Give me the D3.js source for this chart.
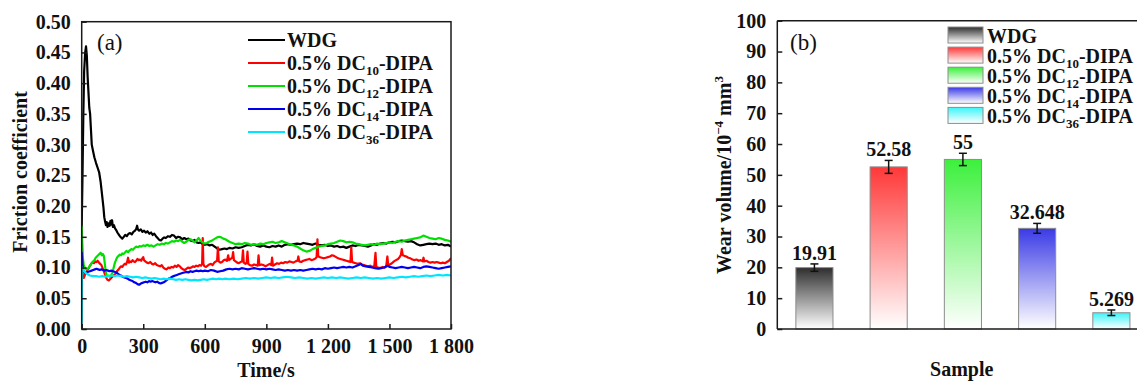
<!DOCTYPE html>
<html>
<head>
<meta charset="utf-8">
<script src="https://cdn.jsdelivr.net/npm/d3@7"></script>
<style>
  html, body { margin: 0; padding: 0; background: #fff; }
  svg { display: block; }
  text { font-family: "Liberation Serif", "Times New Roman", serif; fill: #111; }
</style>
</head>
<body>
<svg id="chart" width="1137" height="381"></svg>
<script>
// ---------- (a) friction coefficient vs time ----------
const seriesNames = ["WDG", "DC10", "DC12", "DC14", "DC36"];
const seriesColors = ["#000000", "#ff0000", "#00e000", "#0000ee", "#00e5ff"];
const legendSub = [null, "10", "12", "14", "36"];

const timeTicks = [0, 300, 600, 900, 1200, 1500, 1800];
const timeTickLabels = ["0", "300", "600", "900", "1 200", "1 500", "1 800"];
const cofTicks = [0, 0.05, 0.10, 0.15, 0.20, 0.25, 0.30, 0.35, 0.40, 0.45, 0.50];

const wdgSeries = [[0,0.165],[4,0.25],[8,0.35],[12,0.42],[17,0.45],[21,0.46],[25,0.445],[29,0.41],[33,0.385],[37,0.36],[41,0.35],[45,0.325],[49,0.30],[55,0.29],[62,0.279],[70,0.27],[78,0.262],[85,0.255],[92,0.24],[97,0.225],[102,0.21],[106,0.198],[110,0.182],[114,0.175],[118,0.169],[122,0.174],[126,0.166],[131,0.172],[136,0.168],[140,0.176],[144,0.17],[148,0.177],[152,0.166],[157,0.169],[162,0.164],[168,0.161],[174,0.157],[180,0.154],[186,0.151],[192,0.149],[198,0.147],[205,0.15],[212,0.153],[220,0.151],[228,0.155],[236,0.156],[244,0.154],[252,0.158],[260,0.16],[266,0.163],[270,0.168],[274,0.162],[280,0.16],[288,0.162],[296,0.158],[304,0.16],[312,0.157],[320,0.159],[330,0.155],[338,0.157],[346,0.153],[354,0.155],[362,0.151],[370,0.148],[378,0.145],[386,0.144],[394,0.147],[402,0.149],[410,0.148],[420,0.151],[430,0.15],[440,0.153],[450,0.152],[460,0.148],[470,0.15],[480,0.149],[490,0.146],[500,0.148],[510,0.146],[520,0.147],[530,0.144],[540,0.143],[550,0.145],[560,0.141],[570,0.14],[580,0.141],[590,0.138],[600,0.137],[612,0.138],[624,0.136],[636,0.137],[648,0.134],[660,0.131],[672,0.129],[684,0.13],[696,0.131],[708,0.13],[720,0.132],[735,0.131],[750,0.133],[765,0.132],[780,0.133],[795,0.135],[810,0.137],[825,0.136],[840,0.138],[855,0.135],[870,0.134],[885,0.136],[900,0.134],[915,0.133],[930,0.135],[945,0.134],[960,0.136],[975,0.134],[990,0.137],[1005,0.138],[1020,0.137],[1035,0.138],[1050,0.139],[1065,0.138],[1080,0.14],[1095,0.139],[1110,0.138],[1125,0.137],[1140,0.139],[1155,0.137],[1170,0.136],[1185,0.137],[1200,0.135],[1215,0.136],[1230,0.134],[1245,0.135],[1260,0.133],[1275,0.134],[1290,0.132],[1305,0.134],[1320,0.136],[1335,0.135],[1350,0.137],[1365,0.136],[1380,0.135],[1395,0.134],[1410,0.136],[1425,0.138],[1440,0.137],[1455,0.139],[1470,0.14],[1485,0.139],[1500,0.141],[1515,0.142],[1530,0.141],[1545,0.143],[1560,0.144],[1575,0.143],[1590,0.142],[1605,0.143],[1620,0.141],[1635,0.138],[1650,0.136],[1665,0.137],[1680,0.138],[1695,0.139],[1710,0.138],[1725,0.139],[1740,0.137],[1755,0.138],[1770,0.136],[1785,0.137],[1800,0.134]];

const dc10Series = [[0,0.1],[3,0.095],[6,0.087],[10,0.083],[14,0.086],[18,0.09],[24,0.094],[30,0.097],[36,0.1],[42,0.104],[48,0.107],[54,0.108],[60,0.107],[66,0.11],[72,0.109],[78,0.111],[84,0.108],[90,0.106],[96,0.104],[102,0.099],[108,0.094],[114,0.088],[120,0.083],[126,0.08],[132,0.079],[138,0.081],[144,0.083],[150,0.085],[156,0.087],[162,0.089],[168,0.091],[174,0.095],[180,0.097],[186,0.1],[192,0.102],[198,0.101],[204,0.104],[210,0.106],[216,0.105],[222,0.11],[226,0.116],[230,0.108],[236,0.11],[242,0.109],[248,0.112],[254,0.11],[260,0.109],[266,0.111],[272,0.114],[278,0.112],[284,0.113],[290,0.111],[296,0.115],[300,0.117],[304,0.112],[310,0.11],[318,0.108],[326,0.107],[334,0.109],[342,0.106],[350,0.105],[358,0.107],[366,0.104],[374,0.103],[382,0.102],[390,0.104],[398,0.1],[406,0.098],[414,0.097],[422,0.1],[430,0.099],[438,0.101],[446,0.1],[454,0.103],[462,0.101],[470,0.104],[478,0.102],[486,0.099],[494,0.097],[502,0.096],[510,0.098],[518,0.1],[526,0.099],[534,0.1],[542,0.102],[550,0.101],[558,0.103],[566,0.102],[574,0.104],[582,0.103],[587,0.106],[590,0.148],[593,0.106],[598,0.102],[606,0.101],[614,0.103],[622,0.105],[630,0.106],[638,0.104],[646,0.108],[654,0.11],[660,0.111],[664,0.133],[668,0.11],[676,0.108],[684,0.109],[692,0.112],[700,0.113],[708,0.111],[714,0.12],[718,0.112],[726,0.114],[734,0.116],[738,0.125],[742,0.112],[750,0.11],[758,0.108],[766,0.107],[774,0.109],[782,0.11],[786,0.128],[790,0.108],[798,0.106],[804,0.107],[808,0.126],[812,0.106],[820,0.104],[830,0.103],[840,0.105],[850,0.104],[858,0.103],[862,0.12],[866,0.104],[876,0.105],[886,0.104],[896,0.102],[906,0.104],[916,0.106],[924,0.104],[928,0.116],[932,0.103],[942,0.105],[952,0.107],[962,0.106],[972,0.108],[982,0.107],[992,0.109],[1002,0.108],[1012,0.11],[1022,0.109],[1032,0.108],[1042,0.11],[1052,0.111],[1056,0.118],[1060,0.11],[1070,0.109],[1080,0.111],[1090,0.112],[1100,0.113],[1110,0.114],[1120,0.112],[1130,0.113],[1140,0.115],[1145,0.117],[1149,0.146],[1153,0.118],[1160,0.117],[1170,0.116],[1180,0.115],[1190,0.116],[1200,0.117],[1210,0.118],[1220,0.12],[1230,0.119],[1240,0.117],[1250,0.115],[1260,0.114],[1270,0.113],[1280,0.112],[1290,0.111],[1300,0.11],[1310,0.109],[1314,0.133],[1318,0.109],[1326,0.108],[1336,0.107],[1346,0.106],[1356,0.107],[1366,0.105],[1376,0.104],[1386,0.103],[1396,0.102],[1406,0.103],[1416,0.101],[1426,0.102],[1432,0.124],[1436,0.101],[1444,0.1],[1452,0.099],[1460,0.1],[1468,0.101],[1476,0.1],[1484,0.102],[1490,0.118],[1494,0.103],[1502,0.105],[1512,0.107],[1522,0.11],[1532,0.112],[1542,0.114],[1550,0.117],[1556,0.121],[1560,0.13],[1565,0.12],[1572,0.119],[1582,0.118],[1592,0.116],[1602,0.115],[1612,0.113],[1622,0.112],[1632,0.113],[1642,0.111],[1652,0.112],[1662,0.11],[1666,0.116],[1670,0.11],[1680,0.111],[1690,0.109],[1700,0.108],[1710,0.109],[1720,0.108],[1730,0.109],[1740,0.108],[1750,0.107],[1760,0.108],[1770,0.107],[1780,0.109],[1790,0.111],[1800,0.115]];

const dc12Series = [[0,0.168],[3,0.14],[6,0.115],[10,0.104],[15,0.1],[20,0.098],[26,0.097],[32,0.099],[38,0.102],[44,0.104],[50,0.108],[56,0.11],[62,0.112],[68,0.116],[74,0.118],[80,0.12],[86,0.122],[92,0.124],[98,0.12],[103,0.122],[108,0.119],[112,0.108],[116,0.097],[120,0.088],[126,0.086],[132,0.087],[138,0.085],[144,0.088],[150,0.092],[156,0.1],[162,0.108],[168,0.113],[174,0.117],[180,0.119],[186,0.121],[192,0.12],[198,0.123],[204,0.122],[210,0.124],[218,0.127],[226,0.125],[234,0.128],[242,0.13],[250,0.129],[258,0.132],[266,0.134],[274,0.133],[282,0.135],[290,0.134],[300,0.136],[310,0.135],[320,0.137],[330,0.135],[340,0.136],[350,0.134],[360,0.136],[370,0.138],[380,0.137],[390,0.139],[400,0.138],[410,0.14],[420,0.139],[430,0.141],[440,0.143],[450,0.142],[460,0.144],[470,0.143],[480,0.145],[490,0.142],[500,0.14],[510,0.142],[520,0.145],[530,0.146],[540,0.144],[550,0.141],[560,0.144],[570,0.148],[580,0.143],[590,0.141],[600,0.139],[610,0.14],[620,0.142],[630,0.143],[640,0.145],[650,0.147],[660,0.149],[670,0.15],[680,0.149],[690,0.147],[700,0.146],[710,0.144],[720,0.142],[735,0.14],[750,0.138],[765,0.139],[780,0.138],[795,0.14],[810,0.139],[825,0.137],[840,0.138],[855,0.137],[870,0.139],[885,0.138],[900,0.14],[915,0.141],[930,0.142],[945,0.14],[960,0.141],[975,0.143],[990,0.141],[1005,0.139],[1020,0.137],[1035,0.136],[1050,0.134],[1065,0.131],[1080,0.128],[1095,0.126],[1110,0.127],[1125,0.13],[1140,0.132],[1155,0.134],[1170,0.135],[1185,0.136],[1200,0.138],[1215,0.139],[1230,0.14],[1245,0.142],[1260,0.144],[1275,0.143],[1290,0.141],[1305,0.142],[1320,0.141],[1335,0.139],[1350,0.138],[1365,0.137],[1380,0.136],[1395,0.137],[1410,0.138],[1425,0.137],[1440,0.139],[1455,0.138],[1470,0.139],[1485,0.14],[1500,0.141],[1515,0.14],[1530,0.142],[1545,0.143],[1560,0.142],[1575,0.144],[1590,0.145],[1605,0.146],[1620,0.147],[1635,0.148],[1650,0.149],[1665,0.152],[1680,0.15],[1695,0.148],[1710,0.147],[1725,0.146],[1740,0.148],[1755,0.147],[1770,0.145],[1785,0.144],[1800,0.142]];

const dc14Series = [[0,0.125],[3,0.11],[6,0.098],[10,0.093],[16,0.091],[24,0.092],[32,0.093],[40,0.094],[48,0.095],[56,0.096],[64,0.097],[72,0.098],[80,0.097],[88,0.096],[96,0.097],[104,0.096],[112,0.095],[120,0.096],[128,0.095],[136,0.094],[144,0.095],[152,0.094],[160,0.093],[168,0.092],[176,0.09],[184,0.088],[192,0.087],[200,0.085],[208,0.084],[216,0.083],[224,0.082],[232,0.08],[240,0.079],[248,0.078],[256,0.076],[264,0.075],[272,0.073],[280,0.072],[288,0.074],[296,0.075],[304,0.076],[312,0.077],[320,0.076],[328,0.078],[336,0.077],[344,0.078],[352,0.077],[360,0.076],[368,0.077],[376,0.075],[384,0.074],[392,0.075],[400,0.076],[408,0.078],[416,0.08],[424,0.082],[432,0.083],[440,0.085],[448,0.086],[456,0.087],[464,0.088],[472,0.089],[480,0.09],[490,0.091],[500,0.092],[510,0.093],[520,0.092],[530,0.094],[540,0.093],[550,0.094],[560,0.095],[570,0.094],[580,0.095],[590,0.094],[600,0.095],[615,0.094],[630,0.096],[645,0.095],[660,0.093],[675,0.094],[690,0.095],[705,0.097],[720,0.098],[735,0.097],[750,0.098],[765,0.097],[780,0.099],[795,0.098],[810,0.097],[825,0.098],[840,0.099],[855,0.098],[870,0.097],[885,0.098],[900,0.097],[915,0.098],[930,0.097],[945,0.096],[960,0.097],[975,0.096],[990,0.095],[1005,0.096],[1020,0.095],[1035,0.096],[1050,0.095],[1065,0.096],[1080,0.095],[1095,0.096],[1110,0.097],[1125,0.098],[1140,0.097],[1155,0.098],[1170,0.097],[1185,0.099],[1200,0.098],[1215,0.099],[1230,0.1],[1245,0.099],[1260,0.1],[1275,0.101],[1290,0.1],[1305,0.101],[1320,0.1],[1335,0.102],[1350,0.104],[1360,0.106],[1370,0.103],[1385,0.102],[1400,0.101],[1415,0.1],[1430,0.099],[1445,0.098],[1460,0.099],[1475,0.1],[1490,0.103],[1500,0.101],[1515,0.1],[1530,0.099],[1545,0.1],[1560,0.101],[1575,0.1],[1590,0.099],[1605,0.1],[1620,0.101],[1635,0.1],[1650,0.099],[1665,0.101],[1680,0.102],[1695,0.101],[1710,0.1],[1725,0.099],[1740,0.098],[1755,0.099],[1770,0.1],[1785,0.101],[1800,0.102]];

const dc36Series = [[0,0.0],[1,0.06],[2,0.1],[6,0.097],[12,0.094],[20,0.091],[30,0.089],[40,0.087],[55,0.086],[70,0.086],[85,0.085],[100,0.086],[115,0.085],[130,0.086],[145,0.087],[160,0.086],[175,0.087],[190,0.086],[205,0.085],[220,0.086],[235,0.085],[250,0.084],[265,0.085],[280,0.084],[295,0.083],[310,0.084],[325,0.083],[340,0.082],[355,0.083],[370,0.082],[385,0.081],[400,0.082],[415,0.081],[430,0.082],[445,0.081],[460,0.08],[475,0.081],[490,0.08],[505,0.081],[520,0.08],[535,0.079],[550,0.08],[565,0.079],[580,0.08],[595,0.081],[610,0.08],[625,0.081],[640,0.082],[655,0.081],[670,0.082],[685,0.081],[700,0.082],[720,0.081],[740,0.082],[760,0.081],[780,0.082],[800,0.083],[820,0.082],[840,0.083],[860,0.082],[880,0.083],[900,0.084],[920,0.083],[940,0.084],[960,0.083],[980,0.084],[1000,0.085],[1020,0.084],[1040,0.083],[1060,0.084],[1080,0.083],[1100,0.082],[1120,0.083],[1140,0.082],[1160,0.083],[1180,0.084],[1200,0.083],[1220,0.084],[1240,0.083],[1260,0.084],[1280,0.083],[1300,0.082],[1320,0.083],[1340,0.084],[1360,0.083],[1380,0.084],[1400,0.083],[1420,0.082],[1440,0.083],[1460,0.082],[1480,0.083],[1500,0.084],[1520,0.083],[1540,0.084],[1560,0.085],[1580,0.084],[1600,0.085],[1620,0.086],[1640,0.085],[1660,0.086],[1680,0.087],[1700,0.086],[1720,0.087],[1740,0.088],[1760,0.087],[1780,0.088],[1800,0.087]];

// ---------- (b) wear volume bars ----------
const wearSamples = ["WDG", "DC10", "DC12", "DC14", "DC36"];
const wearValues = [19.91, 52.58, 55, 32.648, 5.269];
const wearErrors = [1.2, 2.1, 2.0, 1.6, 0.9];
const wearTopColors = ["#2e2e2e", "#ff3838", "#3cf03c", "#3a3ae6", "#3cf4f8"];
const wearTicks = [0, 10, 20, 30, 40, 50, 60, 70, 80, 90, 100];

const svg = d3.select("#chart");
const FONT = '"Liberation Serif", "Times New Roman", serif';
const AXIS_COLOR = "#1a1a1a";
const FS = 20;

// legend label helper: "0.5% DC" + subscript + "-DIPA"
function legendLabel(sel, i) {
  if (legendSub[i] === null) { sel.text("WDG"); return; }
  sel.append("tspan").text("0.5% DC");
  sel.append("tspan").attr("font-size", 13).attr("dy", 5).text(legendSub[i]);
  sel.append("tspan").attr("dy", -5).text("-DIPA");
}

// ======================= panel (a) =======================
const ax = { left: 81.7, right: 451, top: 21.7, bottom: 329 };
const xA = d3.scaleLinear().domain([0, 1800]).range([ax.left, ax.right]);
const yA = d3.scaleLinear().domain([0, 0.5]).range([ax.bottom, ax.top]);

const gA = svg.append("g");
const allSeries = [wdgSeries, dc10Series, dc12Series, dc14Series, dc36Series];
const line = d3.line().x(d => xA(d[0])).y(d => yA(d[1]));

gA.append("clipPath").attr("id", "clipA").append("rect")
  .attr("x", ax.left).attr("y", ax.top)
  .attr("width", ax.right - ax.left).attr("height", ax.bottom - ax.top);

const linesG = gA.append("g").attr("clip-path", "url(#clipA)");
allSeries.forEach((s, i) => {
  linesG.append("path").datum(s)
    .attr("d", line)
    .attr("fill", "none")
    .attr("stroke", seriesColors[i])
    .attr("stroke-width", 2.2)
    .attr("stroke-linejoin", "round");
});

// frame
gA.append("rect")
  .attr("x", ax.left).attr("y", ax.top)
  .attr("width", ax.right - ax.left).attr("height", ax.bottom - ax.top)
  .attr("fill", "none").attr("stroke", AXIS_COLOR).attr("stroke-width", 1.5);

// axes (inward ticks)
const xAxisA = d3.axisBottom(xA).tickValues(timeTicks)
  .tickFormat((d, i) => timeTickLabels[i]).tickSizeInner(-5).tickSizeOuter(0).tickPadding(10);
const yAxisA = d3.axisLeft(yA).tickValues(cofTicks)
  .tickFormat(d3.format(".2f")).tickSizeInner(-5).tickSizeOuter(0).tickPadding(11);

function styleAxis(g) {
  g.select(".domain").remove();
  g.selectAll(".tick line").attr("stroke", AXIS_COLOR).attr("stroke-width", 1.5);
  g.selectAll(".tick text").attr("font-family", FONT).attr("font-weight", "bold")
    .attr("font-size", FS).attr("fill", "#111");
}
gA.append("g").attr("transform", `translate(0,${ax.bottom})`).call(xAxisA).call(styleAxis);
gA.append("g").attr("transform", `translate(${ax.left},0)`).call(yAxisA).call(styleAxis);

gA.append("text").attr("x", 266).attr("y", 377)
  .attr("text-anchor", "middle").attr("font-weight", "bold").attr("font-size", FS)
  .text("Time/s");
gA.append("text").attr("transform", "translate(26.5,172) rotate(-90)")
  .attr("text-anchor", "middle").attr("font-weight", "bold").attr("font-size", FS)
  .text("Friction coefficient");
gA.append("text").attr("x", 97).attr("y", 50).attr("font-size", 23).text("(a)");

// legend (a)
const legA = gA.append("g");
seriesNames.forEach((n, i) => {
  const by = 46.5 + i * 23;
  legA.append("line").attr("x1", 248).attr("x2", 285)
    .attr("y1", by - 6.5).attr("y2", by - 6.5)
    .attr("stroke", seriesColors[i]).attr("stroke-width", 2.2);
  legA.append("text").attr("x", 287).attr("y", by)
    .attr("font-weight", "bold").attr("font-size", FS)
    .call(sel => legendLabel(sel, i));
});

// ======================= panel (b) =======================
const bx = { left: 777.3, right: 1148.5, top: 20.7, bottom: 329 };
const xB = d3.scaleBand().domain(wearSamples).range([bx.left, bx.right])
  .paddingInner(0.5).paddingOuter(0.25);
const yB = d3.scaleLinear().domain([0, 100]).range([bx.bottom, bx.top]);

const defs = svg.append("defs");
wearTopColors.forEach((c, i) => {
  const gr = defs.append("linearGradient").attr("id", "grad" + i)
    .attr("x1", 0).attr("y1", 0).attr("x2", 0).attr("y2", 1);
  gr.append("stop").attr("offset", "0%").attr("stop-color", c);
  gr.append("stop").attr("offset", "100%").attr("stop-color", "#ffffff");
});

const gB = svg.append("g");
gB.selectAll("rect.bar").data(wearValues).join("rect")
  .attr("class", "bar")
  .attr("x", (d, i) => xB(wearSamples[i]))
  .attr("y", d => yB(d))
  .attr("width", xB.bandwidth())
  .attr("height", d => yB(0) - yB(d))
  .attr("fill", (d, i) => `url(#grad${i})`)
  .attr("stroke", "#8c8c8c").attr("stroke-width", 1);

// error bars and value labels
wearValues.forEach((v, i) => {
  const cx = xB(wearSamples[i]) + xB.bandwidth() / 2;
  const e = wearErrors[i];
  const eg = gB.append("g").attr("stroke", "#111").attr("stroke-width", 1.5);
  eg.append("line").attr("x1", cx).attr("x2", cx).attr("y1", yB(v - e)).attr("y2", yB(v + e));
  eg.append("line").attr("x1", cx - 4).attr("x2", cx + 4).attr("y1", yB(v - e)).attr("y2", yB(v - e));
  eg.append("line").attr("x1", cx - 4).attr("x2", cx + 4).attr("y1", yB(v + e)).attr("y2", yB(v + e));
  gB.append("text").attr("x", cx).attr("y", yB(v + e) - 4)
    .attr("text-anchor", "middle").attr("font-weight", "bold").attr("font-size", FS)
    .text(String(v));
});

// axis lines of panel (b): left, bottom, top
gB.append("line").attr("x1", bx.left).attr("x2", bx.left).attr("y1", bx.top).attr("y2", bx.bottom)
  .attr("stroke", AXIS_COLOR).attr("stroke-width", 1.5);
gB.append("line").attr("x1", bx.left).attr("x2", bx.right).attr("y1", bx.bottom).attr("y2", bx.bottom)
  .attr("stroke", AXIS_COLOR).attr("stroke-width", 1.5);
gB.append("line").attr("x1", bx.left).attr("x2", bx.right).attr("y1", bx.top).attr("y2", bx.top)
  .attr("stroke", AXIS_COLOR).attr("stroke-width", 1.5);

const yAxisB = d3.axisLeft(yB).tickValues(wearTicks)
  .tickSizeInner(-5).tickSizeOuter(0).tickPadding(11);
gB.append("g").attr("transform", `translate(${bx.left},0)`).call(yAxisB).call(styleAxis);

gB.append("text").attr("x", 961.7).attr("y", 376)
  .attr("text-anchor", "middle").attr("font-weight", "bold").attr("font-size", FS)
  .text("Sample");
const yLabB = gB.append("text").attr("transform", "translate(731,175) rotate(-90)")
  .attr("text-anchor", "middle").attr("font-weight", "bold").attr("font-size", FS);
yLabB.append("tspan").text("Wear volume/10");
yLabB.append("tspan").attr("font-size", 13).attr("dy", -8).text("\u22124");
yLabB.append("tspan").attr("dy", 8).text(" mm");
yLabB.append("tspan").attr("font-size", 13).attr("dy", -8).text("3");
gB.append("text").attr("x", 790).attr("y", 50).attr("font-size", 23).text("(b)");

// legend (b)
const legB = gB.append("g");
seriesNames.forEach((n, i) => {
  const by = 43 + i * 20.1;
  legB.append("rect").attr("x", 948).attr("y", by - 16).attr("width", 35).attr("height", 16)
    .attr("fill", `url(#grad${i})`).attr("stroke", "#8c8c8c").attr("stroke-width", 1);
  legB.append("text").attr("x", 987).attr("y", by)
    .attr("font-weight", "bold").attr("font-size", FS)
    .call(sel => legendLabel(sel, i));
});
</script>
</body>
</html>
